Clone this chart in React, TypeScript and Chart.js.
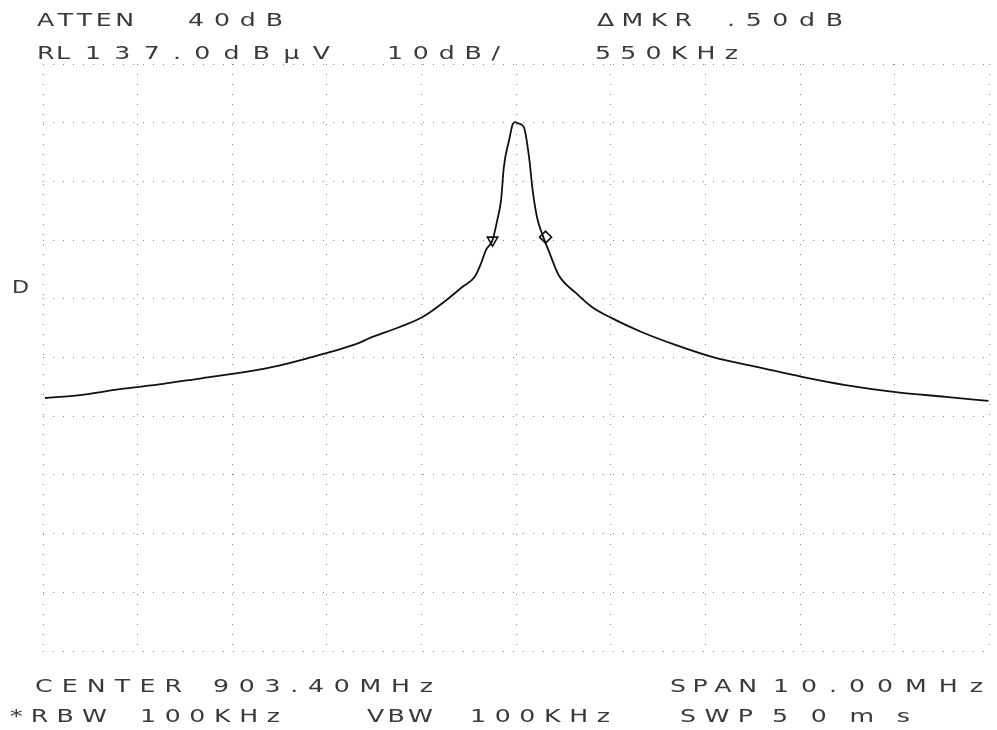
import React, { useEffect, useRef } from "react";
import { Chart, registerables } from "chart.js";

Chart.register(...registerables);

// Trace: frequency (MHz) and level (dBµV)
const freqMHz = [
  898.42, 898.79, 899.21, 899.67, 900.09, 900.4, 900.83, 901.25, 901.43, 901.74,
  901.85, 902.17, 902.41, 902.64, 902.83, 902.96, 903.03, 903.08, 903.15, 903.2,
  903.24, 903.27, 903.33, 903.36, 903.39, 903.42, 903.48, 903.54, 903.57, 903.62,
  903.68, 903.75, 903.85, 904.03, 904.2, 904.41, 904.73, 905.09, 905.47, 906.0,
  906.42, 906.88, 907.41, 907.94, 908.39,
];
const levelDb = [
  80.1, 80.6, 81.6, 82.5, 83.5, 84.2, 85.4, 87.1, 87.9, 89.5,
  90.3, 92.2, 93.9, 96.5, 99.0, 100.7, 103.1, 105.3, 107.0, 110.4,
  113.8, 119.5, 124.4, 126.6, 127.1, 126.9, 126.3, 120.6, 116.0, 110.9,
  107.8, 104.9, 101.0, 98.0, 95.6, 93.7, 91.3, 89.1, 87.1, 85.2,
  83.7, 82.3, 81.1, 80.3, 79.6,
];

// Markers (reference ▽ and delta ◇)
const markerFreq = [903.15, 903.71];
const markerLevel = [107.0, 107.5];

// Grid: 10 divisions each way
const xGridMHz = [898.4, 899.4, 900.4, 901.4, 902.4, 903.4, 904.4, 905.4, 906.4, 907.4, 908.4];
const yGridDb = [37, 47, 57, 67, 77, 87, 97, 107, 117, 127, 137];

// Annotation texts
const headerRow1 = ["ATTEN", "40dB", "ΔMKR", ".50dB"];
const headerRow2 = ["RL", "137.0dBµV", "10dB/", "550KHz"];
const footerRow1 = ["CENTER", "903.40MHz", "SPAN", "10.00MHz"];
const footerRow2 = ["*RBW", "100KHz", "VBW", "100KHz", "SWP", "50ms"];
const sideLabel = "D";

type TextItem = { text: string; x0: number; x1: number; y: number };

const textItems: TextItem[] = [
  { text: headerRow1[0], x0: 37, x1: 134, y: 26 },
  { text: headerRow1[1], x0: 188, x1: 283, y: 26 },
  { text: headerRow1[2], x0: 597, x1: 692, y: 26 },
  { text: headerRow1[3], x0: 727, x1: 843, y: 26 },
  { text: headerRow2[0], x0: 37, x1: 70, y: 59 },
  { text: headerRow2[1], x0: 85, x1: 330, y: 59 },
  { text: headerRow2[2], x0: 387, x1: 500, y: 59 },
  { text: headerRow2[3], x0: 595, x1: 738, y: 59 },
  { text: footerRow1[0], x0: 35, x1: 182, y: 692 },
  { text: footerRow1[1], x0: 213, x1: 433, y: 692 },
  { text: footerRow1[2], x0: 670, x1: 757, y: 692 },
  { text: footerRow1[3], x0: 773, x1: 983, y: 692 },
  { text: footerRow2[0], x0: 10, x1: 107, y: 722 },
  { text: footerRow2[1], x0: 140, x1: 280, y: 722 },
  { text: footerRow2[2], x0: 367, x1: 433, y: 722 },
  { text: footerRow2[3], x0: 470, x1: 610, y: 722 },
  { text: footerRow2[4], x0: 680, x1: 753, y: 722 },
  { text: footerRow2[5], x0: 772, x1: 910, y: 722 },
  { text: sideLabel, x0: 12, x1: 29, y: 293 },
];

const textPlugin = {
  id: "analyzerText",
  afterDraw(chart: any) {
    const ctx = chart.ctx as CanvasRenderingContext2D;
    const sx = 1.4;
    ctx.save();
    ctx.font = '18px "DejaVu Sans"';
    ctx.fillStyle = "#3a3a3a";
    ctx.textBaseline = "alphabetic";
    ctx.textAlign = "left";
    for (const item of textItems) {
      const chars = Array.from(item.text);
      const widths = chars.map((c) => ctx.measureText(c).width * sx);
      const total = widths.reduce((a, b) => a + b, 0);
      const gap = chars.length > 1 ? (item.x1 - item.x0 - total) / (chars.length - 1) : 0;
      let x = item.x0;
      chars.forEach((c, i) => {
        const w = chars.length === 1 ? item.x1 - item.x0 : widths[i];
        const scale = chars.length === 1 ? w / (widths[i] / sx) : sx;
        ctx.save();
        ctx.translate(x, item.y);
        ctx.scale(scale, 1);
        ctx.fillText(c, 0, 0);
        ctx.restore();
        x += widths[i] + gap;
      });
    }
    ctx.restore();
  },
};

export default function App() {
  const canvasRef = useRef<HTMLCanvasElement | null>(null);

  useEffect(() => {
    if (!canvasRef.current) return;
    const chart = new Chart(canvasRef.current, {
      type: "line",
      data: {
        datasets: [
          {
            label: "trace",
            data: freqMHz.map((f, i) => ({ x: f, y: levelDb[i] })),
            borderColor: "#111",
            borderWidth: 1.8,
            pointRadius: 0,
            cubicInterpolationMode: "monotone",
            fill: false,
          },
          {
            label: "markers",
            type: "scatter",
            data: markerFreq.map((f, i) => ({ x: f, y: markerLevel[i] })),
            pointStyle: ["triangle", "rectRot"],
            rotation: [180, 0],
            pointRadius: 6,
            borderColor: "#111",
            borderWidth: 1.6,
            backgroundColor: "#fff",
            showLine: false,
          } as any,
        ],
      },
      options: {
        animation: false,
        responsive: false,
        layout: { padding: { left: 43, right: 6, top: 64, bottom: 79 } },
        plugins: {
          legend: { display: false },
          tooltip: { enabled: false },
        },
        scales: {
          x: {
            type: "linear",
            min: xGridMHz[0],
            max: xGridMHz[xGridMHz.length - 1],
            afterBuildTicks: (scale: any) => {
              scale.ticks = xGridMHz.map((v) => ({ value: v }));
            },
            ticks: { display: false },
            grid: { color: "#8a8a8a", lineWidth: 1, drawTicks: false },
            border: { display: false, dash: [1, 9] },
          },
          y: {
            type: "linear",
            min: yGridDb[0],
            max: yGridDb[yGridDb.length - 1],
            afterBuildTicks: (scale: any) => {
              scale.ticks = yGridDb.map((v) => ({ value: v }));
            },
            ticks: { display: false },
            grid: { color: "#8a8a8a", lineWidth: 1, drawTicks: false },
            border: { display: false, dash: [1, 9] },
          },
        },
      },
      plugins: [textPlugin],
    });
    return () => chart.destroy();
  }, []);

  return (
    <div style={{ position: "absolute", left: 0, top: 0, width: 997, height: 730, background: "#fff" }}>
      <canvas ref={canvasRef} width={997} height={730} style={{ width: 997, height: 730 }} />
    </div>
  );
}
